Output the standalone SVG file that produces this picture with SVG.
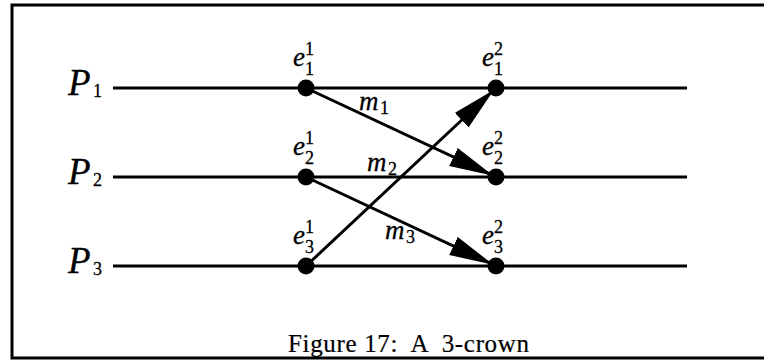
<svg xmlns="http://www.w3.org/2000/svg" width="764" height="360" viewBox="0 0 764 360">
<style>
.it{font-family:"Liberation Serif","DejaVu Serif",serif;font-style:italic;fill:#000;stroke:#000;stroke-width:0.3}
.rm{font-family:"Liberation Serif","DejaVu Serif",serif;fill:#000;stroke:#000;stroke-width:0.3}
.P{font-size:37px}
.e{font-size:27px}
.s{font-size:18px}
.m{font-size:27px}
.line{stroke:#000;stroke-width:3;fill:none}
.ev{fill:#000}
</style>
<defs>
<marker id="ah" markerUnits="userSpaceOnUse" markerWidth="46" markerHeight="22" refX="44" refY="10" orient="auto">
<path d="M0,0 L44,10 L0,20 Z" fill="#000"/>
</marker>
</defs>
<rect x="0" y="0" width="764" height="360" fill="#fff"/>
<path class="line" d="M768,5 H12 V358 H768"/>
<g id="P1">
<line class="line" x1="113" y1="88" x2="687" y2="88"/>
<text class="it P" x="68" y="95">P</text>
<text class="rm s" x="93" y="97">1</text>
</g>
<g id="P2">
<line class="line" x1="113" y1="177" x2="687" y2="177"/>
<text class="it P" x="68" y="184">P</text>
<text class="rm s" x="93" y="186">2</text>
</g>
<g id="P3">
<line class="line" x1="113" y1="266" x2="687" y2="266"/>
<text class="it P" x="68" y="273">P</text>
<text class="rm s" x="93" y="275">3</text>
</g>
<g id="connectors">
<line class="line" x1="306" y1="88" x2="493.3" y2="175.7" marker-end="url(#ah)"/>
<line class="line" x1="306" y1="266" x2="493.8" y2="90" marker-end="url(#ah)"/>
<line class="line" x1="306" y1="177" x2="493.3" y2="264.7" marker-end="url(#ah)"/>
<text class="it m" x="359" y="110">m</text><text class="rm s" x="380" y="114">1</text>
<text class="it m" x="367" y="171">m</text><text class="rm s" x="388" y="175">2</text>
<text class="it m" x="385" y="239">m</text><text class="rm s" x="406" y="243">3</text>
</g>
<g id="e11">
<circle class="ev" cx="306" cy="88" r="8.5"/>
<text class="it e" x="293" y="66">e</text><text class="rm s" x="305" y="55">1</text><text class="rm s" x="305" y="75">1</text>
</g>
<g id="e21">
<circle class="ev" cx="306" cy="177" r="8.5"/>
<text class="it e" x="293" y="155">e</text><text class="rm s" x="305" y="144">1</text><text class="rm s" x="305" y="164">2</text>
</g>
<g id="e31">
<circle class="ev" cx="306" cy="266" r="8.5"/>
<text class="it e" x="293" y="244">e</text><text class="rm s" x="305" y="233">1</text><text class="rm s" x="305" y="253">3</text>
</g>
<g id="e12">
<circle class="ev" cx="496" cy="88" r="8.5"/>
<text class="it e" x="482" y="66">e</text><text class="rm s" x="494" y="55">2</text><text class="rm s" x="494" y="75">1</text>
</g>
<g id="e22">
<circle class="ev" cx="496" cy="177" r="8.5"/>
<text class="it e" x="482" y="155">e</text><text class="rm s" x="494" y="144">2</text><text class="rm s" x="494" y="164">2</text>
</g>
<g id="e32">
<circle class="ev" cx="496" cy="266" r="8.5"/>
<text class="it e" x="482" y="244">e</text><text class="rm s" x="494" y="233">2</text><text class="rm s" x="494" y="253">3</text>
</g>
<text class="rm" x="288" y="352" font-size="25" textLength="241" lengthAdjust="spacing" xml:space="preserve" style="stroke-width:0.2">Figure 17:  A  3-crown</text>
</svg>
